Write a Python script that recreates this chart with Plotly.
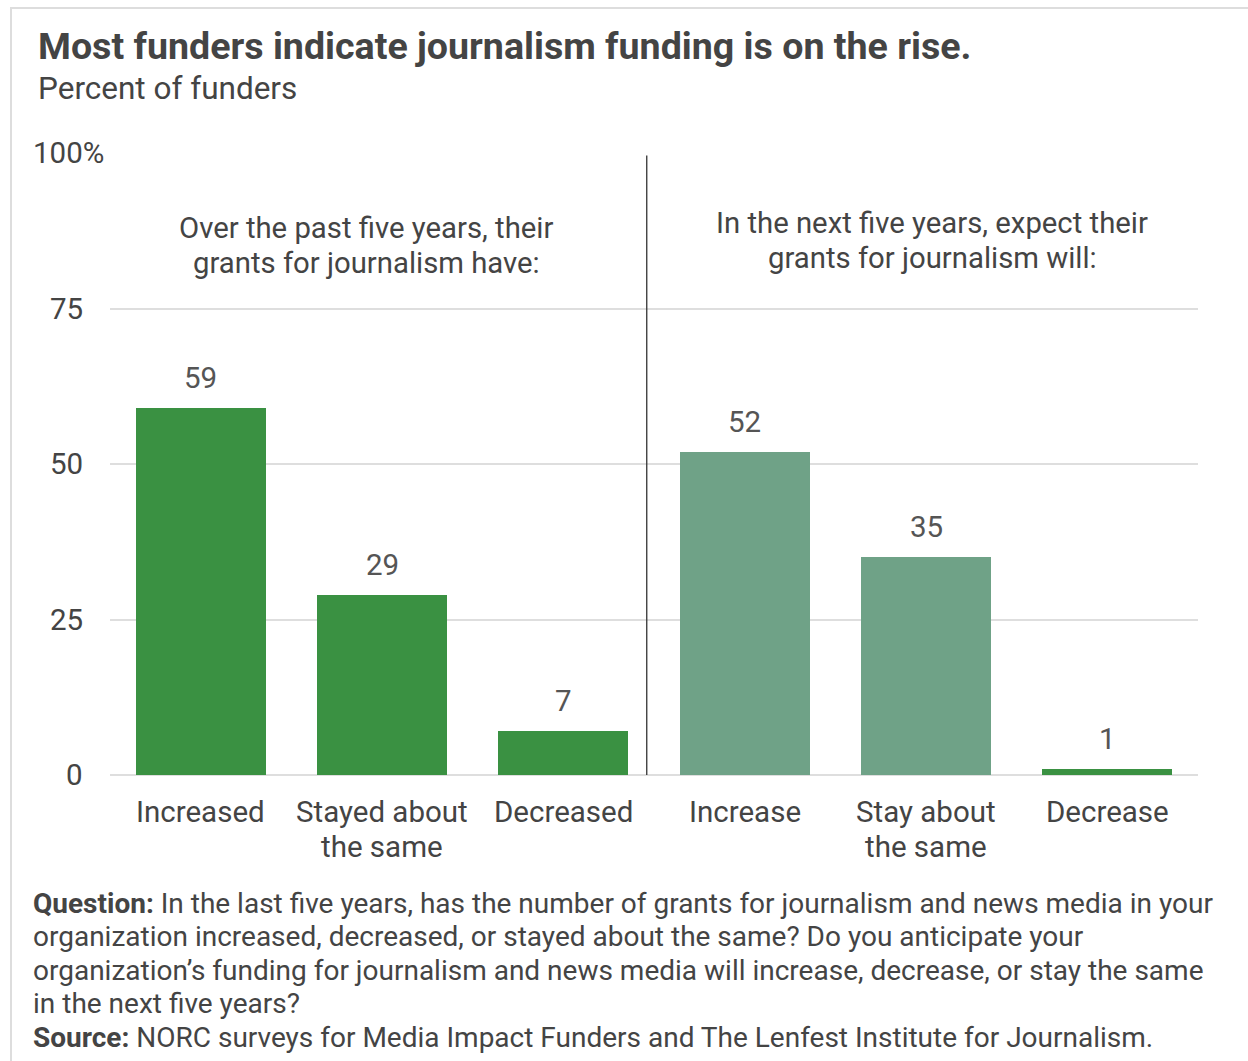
import plotly.graph_objects as go

# Survey results: share of funders (percent)
categories = ["Increased", "Stayed about<br>the same", "Decreased",
              "Increase", "Stay about<br>the same", "Decrease"]
values = [59, 29, 7, 52, 35, 1]
bar_colors = ["#3a9142", "#3a9142", "#3a9142", "#6fa287", "#6fa287", "#3a9142"]

y_ticks = [0, 25, 50, 75, 100]
y_tick_labels = ["0", "25", "50", "75", "100%"]

group_headers = ["Over the past five years, their<br>grants for journalism have:",
                 "In the next five years, expect their<br>grants for journalism will:"]

title = "Most funders indicate journalism funding is on the rise."
subtitle = "Percent of funders"
footnote_lines = [
    "<b>Question:</b> In the last five years, has the number of grants for journalism and news media in your",
    "organization increased, decreased, or stayed about the same? Do you anticipate your",
    "organization\u2019s funding for journalism and news media will increase, decrease, or stay the same",
    "in the next five years?",
    "<b>Source:</b> NORC surveys for Media Impact Funders and The Lenfest Institute for Journalism.",
]

W, H = 1248, 1061
L, R, T, B = 110, 50, 153, 286
PW, PH = W - L - R, H - T - B

def px_x(px):
    return (px - L) / PW

def px_y(py):
    return (H - B - py) / PH

FONT = "Roboto"
TXT = "#444444"

x_idx = list(range(len(categories)))

fig = go.Figure()
fig.add_trace(go.Bar(
    x=x_idx, y=values,
    marker=dict(color=bar_colors, line=dict(width=0)),
    width=0.718,
    hoverinfo="skip",
))

annotations = []

# value labels above each bar
for i, v in zip(x_idx, values):
    annotations.append(dict(
        x=i, xref="x", y=v, yref="y", text=str(v), showarrow=False,
        xanchor="center", yanchor="middle", yshift=30,
        font=dict(family=FONT, size=29.5, color="#555555"),
    ))

# category labels, one annotation per line for tight line spacing
for i, cat in zip(x_idx, categories):
    for k, line in enumerate(cat.split("<br>")):
        annotations.append(dict(
            x=i, xref="x", y=px_y(812 + 35 * k), yref="paper", text=line,
            showarrow=False, xanchor="center", yanchor="middle",
            font=dict(family=FONT, size=29.5, color=TXT),
        ))

# y-axis labels
for v, lab in zip(y_ticks, y_tick_labels):
    right = 106 if lab.endswith("%") else 85
    annotations.append(dict(
        x=px_x(right), xref="paper", y=v, yref="y",
        text=lab, showarrow=False, xanchor="right", yanchor="middle",
        font=dict(family=FONT, size=29.5, color=TXT),
    ))

# group headers
for cx, cy, txt in [(366, 228, group_headers[0]), (932, 223, group_headers[1])]:
    for k, line in enumerate(txt.split("<br>")):
        annotations.append(dict(
            x=px_x(cx), xref="paper", y=px_y(cy + 35 * k), yref="paper",
            text=line, showarrow=False, xanchor="center", yanchor="middle",
            font=dict(family=FONT, size=29.3, color=TXT),
        ))

# title, subtitle
annotations.append(dict(
    x=px_x(36), xref="paper", y=px_y(46), yref="paper",
    text="<b>" + title + "</b>", showarrow=False, xanchor="left", yanchor="middle",
    font=dict(family=FONT, size=37.6, color=TXT),
))
annotations.append(dict(
    x=px_x(36), xref="paper", y=px_y(88), yref="paper",
    text=subtitle, showarrow=False, xanchor="left", yanchor="middle",
    font=dict(family=FONT, size=31.5, color=TXT),
))

# notes
for k, line in enumerate(footnote_lines):
    annotations.append(dict(
        x=px_x(31), xref="paper", y=px_y(903 + 33.5 * k), yref="paper",
        text=line, showarrow=False, xanchor="left", yanchor="middle",
        align="left", font=dict(family=FONT, size=28, color=TXT),
    ))

shapes = [
    # divider between past and future groups
    dict(type="line", xref="x", yref="y", x0=2.46, x1=2.46, y0=0, y1=99.6,
         line=dict(color="#333333", width=1.3)),
    # outer frame
    dict(type="rect", xref="paper", yref="paper",
         x0=px_x(11), x1=px_x(1262), y0=px_y(1075), y1=px_y(8),
         line=dict(color="#dddddd", width=2), layer="below"),
]

fig.update_layout(
    width=W, height=H,
    margin=dict(l=L, r=R, t=T, b=B),
    paper_bgcolor="white", plot_bgcolor="white",
    showlegend=False,
    annotations=annotations,
    shapes=shapes,
    bargap=0,
    xaxis=dict(
        tickvals=x_idx, range=[-0.5, 5.5], showticklabels=False,
        showgrid=False, zeroline=False, showline=False, fixedrange=True,
    ),
    yaxis=dict(
        range=[0, 100], tickvals=y_ticks, showticklabels=False,
        showgrid=True, gridcolor="#dedede", gridwidth=1.5,
        zeroline=True, zerolinecolor="#dedede", zerolinewidth=1.5,
        fixedrange=True,
    ),
)

fig.write_html("out.html")
